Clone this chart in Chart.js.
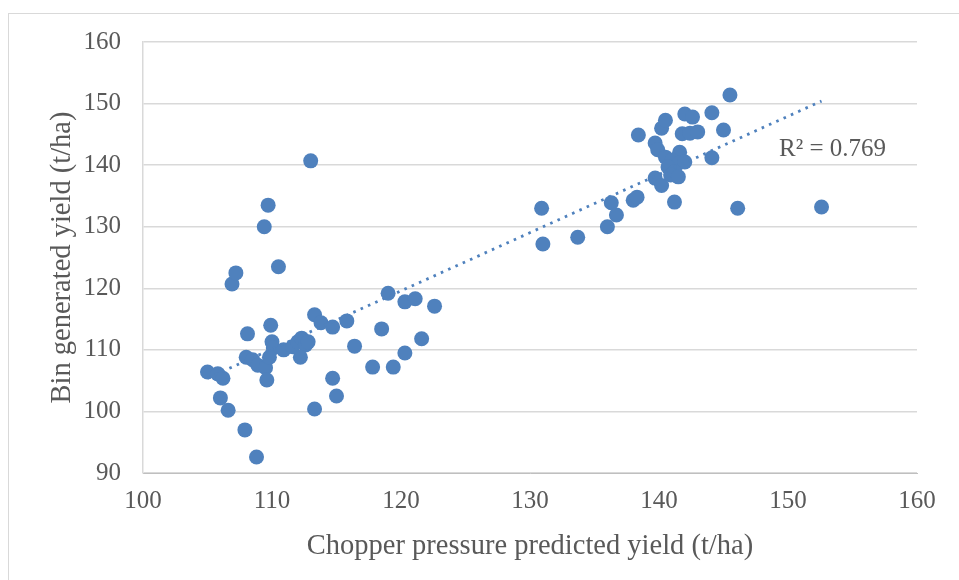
<!DOCTYPE html>
<html>
<head>
<meta charset="utf-8">
<script src="https://cdn.jsdelivr.net/npm/chart.js@4"></script>
<style>
    body { margin: 0; background: #fff; }
    #wrap { position: relative; width: 959px; height: 580px; overflow: hidden; }
    #frame { position: absolute; left: 8px; top: 13px; width: 960px; height: 580px; border: 1px solid #d9d9d9; box-sizing: border-box; }
    #chart { position: absolute; left: 0; top: 0; }
</style>
</head>
<body>
<div id="wrap">
    <div id="frame"></div>
    <canvas id="chart" width="959" height="580"></canvas>
</div>
<script>
// valores
const predictedYield = [
    105.0, 105.8, 106.2, 106.0, 106.6, 107.9, 108.8, 106.9, 107.2, 108.1,
    108.0, 108.5, 108.9, 109.5, 109.6, 109.4, 109.7, 109.9, 110.0, 110.1,
    109.8, 110.5, 110.9, 111.6, 112.0, 112.3, 112.6, 112.2, 112.8, 113.0,
    113.3, 113.8, 114.7, 115.8, 116.4, 118.5, 119.0, 120.3, 121.1, 122.6,
    114.7, 115.0, 113.3, 117.8, 119.4, 120.3, 121.6, 130.9, 131.0, 133.7,
    136.0, 136.3, 136.7, 138.0, 138.3, 138.4, 139.7, 139.9, 140.2, 140.5,
    142.0, 142.6, 144.1, 145.5, 145.0, 141.8, 142.4, 143.0, 141.6, 144.1,
    140.5, 141.0, 141.5, 142.0, 140.7, 141.2, 140.9, 141.5, 139.7, 140.2,
    141.2, 146.1, 152.6
];
const binYield = [
    106.4, 106.1, 105.4, 102.2, 100.2, 97.0, 92.6, 120.7, 122.5, 112.6,
    108.8, 108.4, 107.5, 107.1, 105.1, 130.0, 133.5, 114.0, 111.3, 110.3,
    108.8, 123.5, 110.0, 110.5, 111.3, 111.9, 110.8, 108.8, 111.3, 140.7,
    115.7, 114.4, 113.7, 114.7, 110.6, 113.4, 119.2, 117.8, 118.3, 117.1,
    105.4, 102.5, 100.4, 107.2, 107.2, 109.5, 111.8, 133.0, 127.2, 128.3,
    130.0, 133.9, 131.9, 134.3, 134.8, 144.9, 143.6, 142.5, 146.0, 147.3,
    148.3, 147.8, 148.5, 151.4, 145.7, 145.1, 145.2, 145.4, 142.1, 141.2,
    141.3, 140.8, 140.3, 140.5, 139.7, 138.9, 138.4, 138.1, 137.9, 136.7,
    134.0, 133.0, 133.2
];
// linha de tendência (pontas)
const trendX = [105.0, 152.6];
const trendY = [105.4, 150.4];
const r2Text = 'R\u00B2 = 0.769';
const r2Pos = [149.3, 142.6];

const xTicks = [100, 110, 120, 130, 140, 150, 160];
const yTicks = [90, 100, 110, 120, 130, 140, 150, 160];

const blue = '#4f81bd';
const textColor = '#595959';
const serif = "'Liberation Serif', 'DejaVu Serif', serif";

const points = predictedYield.map((x, i) => ({ x, y: binYield[i] }));
const trend = trendX.map((x, i) => ({ x, y: trendY[i] }));

const r2Label = {
    id: 'r2Label',
    afterDatasetsDraw(chart) {
        const { ctx, scales } = chart;
        ctx.save();
        ctx.font = '25px ' + serif;
        ctx.fillStyle = textColor;
        ctx.textBaseline = 'middle';
        ctx.fillText(r2Text, scales.x.getPixelForValue(r2Pos[0]), scales.y.getPixelForValue(r2Pos[1]));
        ctx.restore();
    }
};

new Chart(document.getElementById('chart'), {
    type: 'scatter',
    data: {
        datasets: [
            {
                label: 'Linear',
                data: trend,
                showLine: true,
                borderColor: blue,
                borderWidth: 2.8,
                borderDash: [2.6, 5.4],
                pointRadius: 0,
                fill: false
            },
            {
                label: 'Yield',
                data: points,
                backgroundColor: blue,
                borderColor: blue,
                borderWidth: 0,
                pointRadius: 7.5
            }
        ]
    },
    options: {
        responsive: false,
        animation: false,
        devicePixelRatio: 1,
        layout: { padding: { top: 42, right: 42, left: 0, bottom: 0 } },
        plugins: {
            legend: { display: false },
            tooltip: { enabled: false }
        },
        scales: {
            x: {
                type: 'linear',
                min: xTicks[0],
                max: xTicks[xTicks.length - 1],
                afterBuildTicks: s => { s.ticks = xTicks.map(v => ({ value: v })); },
                afterFit: s => { s.height = 107; },
                grid: { display: false },
                border: { display: true, color: '#bfbfbf', width: 1 },
                ticks: { color: textColor, font: { family: serif, size: 25 }, padding: 5 },
                title: {
                    display: true,
                    text: 'Chopper pressure predicted yield (t/ha)',
                    color: textColor,
                    font: { family: serif, size: 28.5 },
                    padding: { top: 0, bottom: 16 }
                }
            },
            y: {
                type: 'linear',
                min: yTicks[0],
                max: yTicks[yTicks.length - 1],
                afterBuildTicks: s => { s.ticks = yTicks.map(v => ({ value: v })); },
                afterFit: s => { s.width = 143; },
                grid: { color: '#d9d9d9', lineWidth: 1.5, drawTicks: false },
                border: { display: true, color: '#d9d9d9', width: 1.5 },
                ticks: { color: textColor, font: { family: serif, size: 25 }, padding: 22 },
                title: {
                    display: true,
                    text: 'Bin generated yield (t/ha)',
                    color: textColor,
                    font: { family: serif, size: 28.5 },
                    padding: { top: 45, bottom: 0 }
                }
            }
        }
    },
    plugins: [r2Label]
});
</script>
</body>
</html>
